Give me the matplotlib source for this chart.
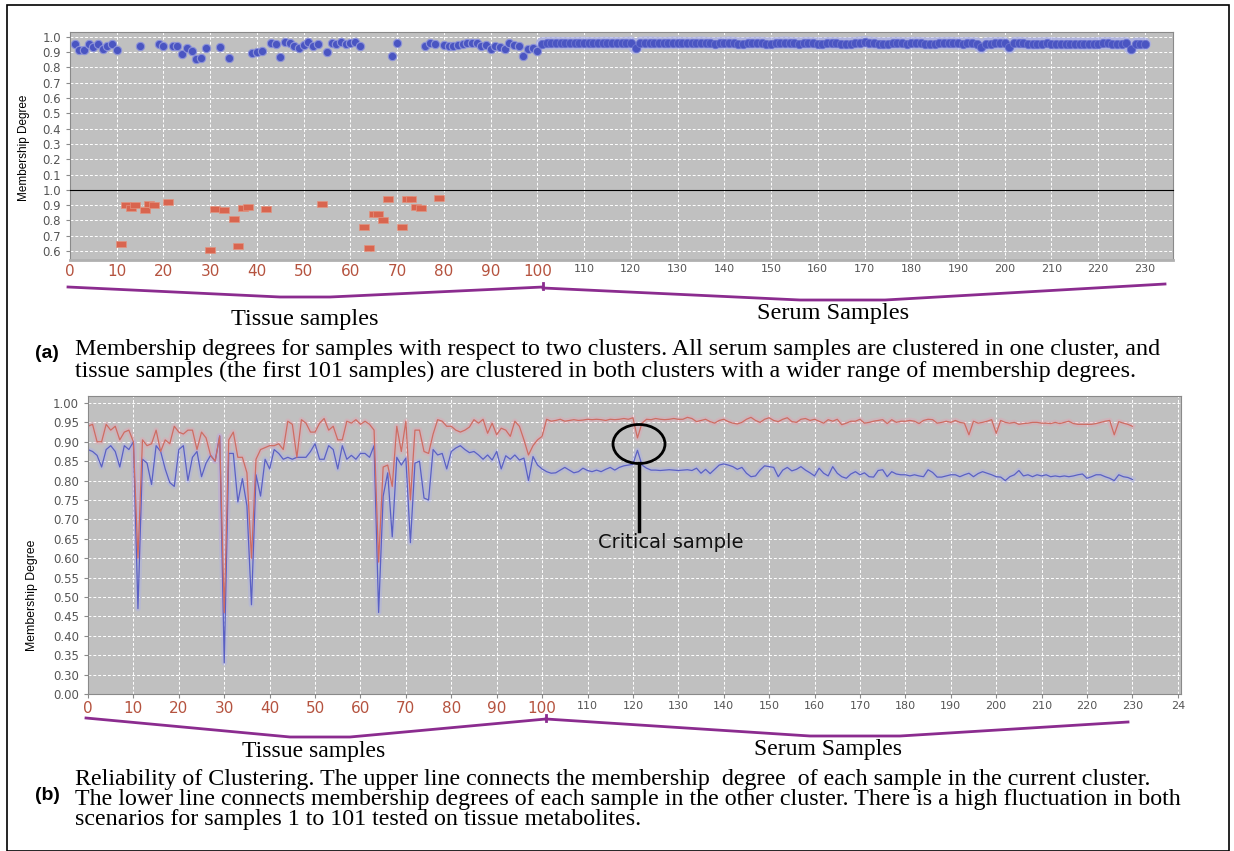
import matplotlib.pyplot as plt
from matplotlib.patches import Ellipse, Rectangle

# ---------------- panel (a): membership of each sample ----------------
# tissue samples that fall in the upper (blue) cluster
tissue_blue_x = [1, 2, 3, 4, 5, 6, 7, 8, 9, 10, 15, 19, 20, 22, 23, 24, 25, 26, 27, 28, 29,
                 32, 34, 39, 40, 41, 43, 44, 45, 46, 47, 48, 49, 50, 51, 52, 53, 55, 56, 57,
                 58, 59, 60, 61, 62, 69, 70, 76, 77, 78, 80, 81, 82, 83, 84, 85, 86, 87, 88,
                 89, 90, 91, 92, 93, 94, 95, 96, 97, 98, 99, 100]
tissue_blue_y = [0.951, 0.912, 0.912, 0.955, 0.931, 0.951, 0.918, 0.936, 0.949, 0.912,
                 0.94, 0.951, 0.936, 0.94, 0.94, 0.888, 0.925, 0.907, 0.857, 0.862, 0.925,
                 0.931, 0.862, 0.892, 0.898, 0.905, 0.957, 0.949, 0.868, 0.962, 0.957, 0.937,
                 0.925, 0.946, 0.962, 0.94, 0.949, 0.90, 0.957, 0.953, 0.962, 0.949, 0.957,
                 0.962, 0.937, 0.875, 0.957, 0.936, 0.957, 0.951, 0.946, 0.936, 0.94, 0.946,
                 0.953, 0.96, 0.957, 0.96, 0.936, 0.943, 0.92, 0.936, 0.93, 0.918, 0.957,
                 0.946, 0.94, 0.875, 0.918, 0.925, 0.907]

# serum samples 101..230, all in the blue cluster
serum_x = list(range(101, 231))
serum_y = [
    0.955, 0.957, 0.958, 0.958, 0.957, 0.957, 0.956, 0.957, 0.958, 0.958,
    0.957, 0.956, 0.957, 0.958, 0.958, 0.957, 0.957, 0.956, 0.958, 0.960,
    0.925, 0.958, 0.960, 0.960, 0.959, 0.958, 0.957, 0.958, 0.960, 0.959,
    0.958, 0.957, 0.956, 0.958, 0.960, 0.958, 0.956, 0.955, 0.957, 0.958,
    0.960, 0.958, 0.955, 0.954, 0.956, 0.958, 0.959, 0.958, 0.955, 0.954,
    0.956, 0.958, 0.960, 0.958, 0.956, 0.955, 0.957, 0.958, 0.956, 0.955,
    0.954, 0.956, 0.957, 0.956, 0.955, 0.954, 0.955, 0.957, 0.960, 0.962,
    0.960, 0.957, 0.955, 0.954, 0.955, 0.957, 0.958, 0.956, 0.955, 0.957,
    0.958, 0.957, 0.955, 0.954, 0.955, 0.956, 0.957, 0.958, 0.957, 0.956,
    0.955, 0.957, 0.956, 0.955, 0.929, 0.954, 0.955, 0.956, 0.957, 0.956,
    0.929, 0.957, 0.958, 0.956, 0.954, 0.953, 0.954, 0.955, 0.956, 0.955,
    0.954, 0.953, 0.952, 0.953, 0.954, 0.953, 0.952, 0.953, 0.954, 0.955,
    0.956, 0.957, 0.955, 0.954, 0.955, 0.956, 0.920, 0.953, 0.954, 0.953,
]

# tissue samples that fall in the lower (red) cluster
red_x = [11, 12, 13, 14, 16, 17, 18, 21, 30, 31, 33, 35, 36, 37, 38, 42, 54, 63, 64, 65,
         66, 67, 68, 71, 72, 73, 74, 75, 79]
red_y = [0.645, 0.90, 0.88, 0.90, 0.87, 0.91, 0.90, 0.92, 0.605, 0.875, 0.87, 0.81, 0.63,
         0.88, 0.89, 0.875, 0.91, 0.76, 0.62, 0.845, 0.84, 0.80, 0.94, 0.76, 0.94, 0.94,
         0.89, 0.88, 0.945]

# ---------------- panel (b): reliability lines ----------------
current_cluster = [
    0.940, 0.945, 0.900, 0.900, 0.945, 0.930, 0.940, 0.905, 0.925, 0.930,
    0.900, 0.600, 0.905, 0.890, 0.895, 0.930, 0.875, 0.905, 0.895, 0.940,
    0.925, 0.920, 0.930, 0.930, 0.880, 0.925, 0.910, 0.865, 0.850, 0.915,
    0.460, 0.905, 0.925, 0.860, 0.860, 0.820, 0.600, 0.855, 0.880, 0.885,
    0.890, 0.890, 0.895, 0.880, 0.953, 0.945, 0.860, 0.957, 0.948, 0.925,
    0.925, 0.948, 0.960, 0.930, 0.940, 0.905, 0.905, 0.953, 0.948, 0.957,
    0.945, 0.953, 0.945, 0.930, 0.590, 0.835, 0.840, 0.785, 0.940, 0.875,
    0.953, 0.750, 0.930, 0.930, 0.875, 0.870, 0.920, 0.957, 0.953, 0.940,
    0.940, 0.930, 0.925, 0.930, 0.938, 0.957, 0.948, 0.958, 0.922, 0.948,
    0.918, 0.935, 0.930, 0.914, 0.953, 0.940, 0.905, 0.866, 0.890, 0.905,
    0.914, 0.958, 0.953, 0.955, 0.958, 0.953, 0.955, 0.957, 0.955, 0.956,
    0.958, 0.957, 0.958, 0.957, 0.955, 0.958, 0.957, 0.958, 0.960, 0.958,
    0.962, 0.910, 0.948, 0.958, 0.957, 0.960, 0.958, 0.957, 0.958, 0.960,
    0.958, 0.958, 0.963, 0.960, 0.952, 0.955, 0.958, 0.952, 0.948, 0.955,
    0.958, 0.952, 0.948, 0.946, 0.950, 0.958, 0.963, 0.955, 0.950, 0.958,
    0.962, 0.955, 0.952, 0.958, 0.962, 0.952, 0.950, 0.958, 0.960, 0.955,
    0.958, 0.953, 0.948, 0.957, 0.953, 0.958, 0.944, 0.948, 0.953, 0.953,
    0.958, 0.948, 0.950, 0.953, 0.955, 0.957, 0.947, 0.957, 0.950, 0.953,
    0.953, 0.955, 0.953, 0.947, 0.955, 0.958, 0.957, 0.948, 0.950, 0.953,
    0.950, 0.955, 0.950, 0.948, 0.918, 0.953, 0.948, 0.950, 0.953, 0.957,
    0.922, 0.955, 0.950, 0.948, 0.950, 0.945, 0.947, 0.948, 0.950, 0.950,
    0.948, 0.948, 0.947, 0.950, 0.947, 0.950, 0.953, 0.947, 0.945, 0.945,
    0.945, 0.945, 0.947, 0.950, 0.953, 0.955, 0.918, 0.952, 0.948, 0.945,
    0.940]
other_cluster = [
    0.880, 0.875, 0.865, 0.835, 0.880, 0.890, 0.875, 0.835, 0.890, 0.880,
    0.900, 0.470, 0.855, 0.845, 0.790, 0.890, 0.875, 0.830, 0.795, 0.785,
    0.880, 0.890, 0.800, 0.860, 0.875, 0.810, 0.845, 0.865, 0.850, 0.915,
    0.330, 0.870, 0.870, 0.745, 0.805, 0.735, 0.480, 0.815, 0.760, 0.855,
    0.830, 0.880, 0.870, 0.855, 0.860, 0.855, 0.860, 0.860, 0.860, 0.875,
    0.895, 0.855, 0.855, 0.890, 0.880, 0.830, 0.890, 0.855, 0.865, 0.855,
    0.870, 0.870, 0.860, 0.890, 0.460, 0.760, 0.820, 0.655, 0.860, 0.840,
    0.858, 0.640, 0.845, 0.850, 0.755, 0.750, 0.880, 0.866, 0.870, 0.830,
    0.875, 0.884, 0.890, 0.880, 0.872, 0.875, 0.866, 0.855, 0.866, 0.853,
    0.875, 0.830, 0.864, 0.855, 0.866, 0.853, 0.858, 0.800, 0.862, 0.840,
    0.830, 0.823, 0.819, 0.820, 0.827, 0.834, 0.827, 0.820, 0.823, 0.832,
    0.826, 0.823, 0.827, 0.823, 0.829, 0.834, 0.827, 0.834, 0.838, 0.840,
    0.842, 0.878, 0.840, 0.832, 0.827, 0.827, 0.826, 0.827, 0.828, 0.827,
    0.826, 0.827, 0.828, 0.826, 0.832, 0.819, 0.829, 0.818, 0.829, 0.840,
    0.843, 0.840, 0.836, 0.829, 0.834, 0.819, 0.810, 0.812, 0.827, 0.838,
    0.836, 0.834, 0.810, 0.827, 0.834, 0.825, 0.829, 0.836, 0.827, 0.820,
    0.812, 0.832, 0.819, 0.812, 0.836, 0.819, 0.810, 0.806, 0.817, 0.823,
    0.815, 0.820, 0.810, 0.809, 0.826, 0.828, 0.810, 0.823, 0.817, 0.815,
    0.815, 0.812, 0.815, 0.812, 0.810, 0.828, 0.821, 0.809, 0.809, 0.812,
    0.815, 0.815, 0.810, 0.815, 0.819, 0.810, 0.818, 0.823, 0.819, 0.815,
    0.810, 0.809, 0.800, 0.810, 0.815, 0.826, 0.812, 0.815, 0.810, 0.815,
    0.812, 0.815, 0.810, 0.812, 0.810, 0.812, 0.810, 0.812, 0.815, 0.817,
    0.806, 0.810, 0.815, 0.815, 0.810, 0.806, 0.800, 0.815, 0.810, 0.808,
    0.803]
sample_idx = list(range(len(current_cluster)))

# tick labels
a_top_yticks = [0.1, 0.2, 0.3, 0.4, 0.5, 0.6, 0.7, 0.8, 0.9, 1.0]
a_bot_yticks = [0.6, 0.7, 0.8, 0.9, 1.0]
a_xticks = list(range(0, 240, 10))
b_yticks = [0.25, 0.30, 0.35, 0.40, 0.45, 0.50, 0.55, 0.60, 0.65, 0.70, 0.75, 0.80,
            0.85, 0.90, 0.95, 1.00]
b_ytick_labels = ['0.00', '0.30', '0.35', '0.40', '0.45', '0.50', '0.55', '0.60', '0.65',
                  '0.70', '0.75', '0.80', '0.85', '0.90', '0.95', '1.00']
b_xticks = list(range(0, 250, 10))
b_xtick_labels = [str(t) for t in range(0, 240, 10)] + ['24']

caption_a = ['Membership degrees for samples with respect to two clusters. All serum samples are clustered in one cluster, and',
             'tissue samples (the first 101 samples) are clustered in both clusters with a wider range of membership degrees.']
caption_b = ['Reliability of Clustering. The upper line connects the membership  degree  of each sample in the current cluster.',
             'The lower line connects membership degrees of each sample in the other cluster. There is a high fluctuation in both',
             'scenarios for samples 1 to 101 tested on tissue metabolites.']

W, H = 1234, 851
fig = plt.figure(figsize=(12.34, 8.51), dpi=100)


def box(l, t, r, b):
    return [l / W, 1 - b / H, (r - l) / W, (b - t) / H]


def style(ax):
    ax.set_facecolor('#c0c0c0')
    for s in ax.spines.values():
        s.set_color('#8a8a8a')
    ax.tick_params(colors='#8a8a8a', labelcolor='#555555', labelsize=8.5, length=3)
    ax.grid(True, color='white', linestyle=(0, (3, 2)), linewidth=0.7)
    ax.set_axisbelow(True)


def color_xlabels(ax, ticks):
    # tissue range labels were drawn bigger and in red, serum range small and grey
    for t, lab in zip(ticks, ax.get_xticklabels()):
        if t <= 100:
            lab.set_color('#b5533f')
            lab.set_fontsize(11)
        else:
            lab.set_color('#555555')
            lab.set_fontsize(8)


# ---- panel (a), upper cluster ----
ax1 = fig.add_axes(box(70, 32, 1173, 190))
style(ax1)
ax1.plot(serum_x, serum_y, color='#aab0ea', lw=9, alpha=0.7, solid_capstyle='round')
ax1.plot(tissue_blue_x, tissue_blue_y, 'o', ms=6, color='#4a55c2', mec='#8d93d8', mew=0.8)
ax1.plot(serum_x, serum_y, 'o', ms=6, color='#4a55c2', mec='#6c74d0', mew=0.6)
ax1.set_xlim(0, 236)
ax1.set_ylim(0, 1.03)
ax1.set_yticks(a_top_yticks)
ax1.set_yticklabels(['%.1f' % v for v in a_top_yticks])
ax1.set_xticks(a_xticks)
ax1.tick_params(axis='x', length=0, labelbottom=False)
ax1.spines['bottom'].set_visible(False)

# ---- panel (a), lower cluster ----
ax2 = fig.add_axes(box(70, 190, 1173, 260))
style(ax2)
rect = [(-1, -0.6), (1, -0.6), (1, 0.6), (-1, 0.6), (-1, -0.6)]
ax2.plot(red_x, red_y, linestyle='none', marker=rect, ms=7.3, color='#d9654f', mec='#e2927f', mew=0.5)
ax2.set_xlim(0, 236)
ax2.set_ylim(0.54, 1.0)
ax2.set_yticks(a_bot_yticks)
ax2.set_yticklabels(['%.1f' % v for v in a_bot_yticks])
ax2.set_xticks(a_xticks)
ax2.set_xticklabels([str(t) for t in a_xticks])
ax2.tick_params(axis='x', length=0, pad=3)
ax2.spines['top'].set_color('black')
ax2.spines['bottom'].set_linewidth(2)
ax2.spines['bottom'].set_color('#b0b0b0')
color_xlabels(ax2, a_xticks)

# ---- panel (b) ----
ax3 = fig.add_axes(box(88, 396, 1181, 694))
style(ax3)
ax3.plot(sample_idx, current_cluster, color='#e8a0b0', lw=4, alpha=0.35)
ax3.plot(sample_idx, other_cluster, color='#a8acf0', lw=4, alpha=0.35)
ax3.plot(sample_idx, other_cluster, color='#5a60c4', lw=0.9)
ax3.plot(sample_idx, current_cluster, color='#cf6c62', lw=0.9)
ax3.set_xlim(0, 240.7)
ax3.set_ylim(0.25, 1.018)
ax3.set_yticks(b_yticks)
ax3.set_yticklabels(b_ytick_labels)
ax3.set_xticks(b_xticks)
ax3.set_xticklabels(b_xtick_labels)
ax3.tick_params(axis='x', length=3, pad=2)
color_xlabels(ax3, b_xticks)

# ---- overlay in pixel coordinates: labels, braces, captions ----
ov = fig.add_axes([0, 0, 1, 1])
ov.set_xlim(0, W)
ov.set_ylim(H, 0)
ov.axis('off')

ov.add_patch(Rectangle((7, 5), 1222, 846, fill=False, edgecolor='black', lw=1.2))

ov.text(24, 148, 'Membership Degree', rotation=90, ha='center', va='center',
        family='Liberation Sans', fontsize=8.5)
ov.text(32, 595, 'Membership Degree', rotation=90, ha='center', va='center',
        family='Liberation Sans', fontsize=8.8)

purple = '#8b2c8f'
ov.plot([68, 280, 330, 543], [287, 297, 297, 287], color=purple, lw=2)
ov.plot([543, 543], [283, 289], color=purple, lw=2)
ov.plot([543, 800, 885, 1165], [288, 300, 300, 284], color=purple, lw=2)
ov.plot([86, 290, 350, 546], [718, 737, 737, 719], color=purple, lw=2)
ov.plot([546, 546], [715, 721], color=purple, lw=2)
ov.plot([546, 810, 900, 1128], [719, 736, 736, 722], color=purple, lw=2)

serif = 'Liberation Serif'
ov.text(305, 320, 'Tissue samples', ha='center', va='center', family=serif, fontsize=17.5)
ov.text(833, 314, 'Serum Samples', ha='center', va='center', family=serif, fontsize=17.5)
ov.text(314, 752, 'Tissue samples', ha='center', va='center', family=serif, fontsize=17)
ov.text(828, 750, 'Serum Samples', ha='center', va='center', family=serif, fontsize=17)

ov.text(47, 353, '(a)', ha='center', va='center', family='Liberation Sans',
        fontweight='bold', fontsize=14)
ov.text(47, 795, '(b)', ha='center', va='center', family='Liberation Sans',
        fontweight='bold', fontsize=14)
for i, line in enumerate(caption_a):
    ov.text(75, 350 + 21 * i, line, ha='left', va='center', family=serif, fontsize=17.3)
for i, line in enumerate(caption_b):
    ov.text(75, 779 + 20.5 * i, line, ha='left', va='center', family=serif, fontsize=17.3)

# critical sample marker
ov.add_patch(Ellipse((639, 444), 52, 39, fill=False, edgecolor='black', lw=2))
ov.plot([639, 639], [463, 531], color='black', lw=2.5)
ov.text(671, 542, 'Critical sample', ha='center', va='center', fontsize=14, color='#111111')

fig.savefig('out.png', dpi=100)
